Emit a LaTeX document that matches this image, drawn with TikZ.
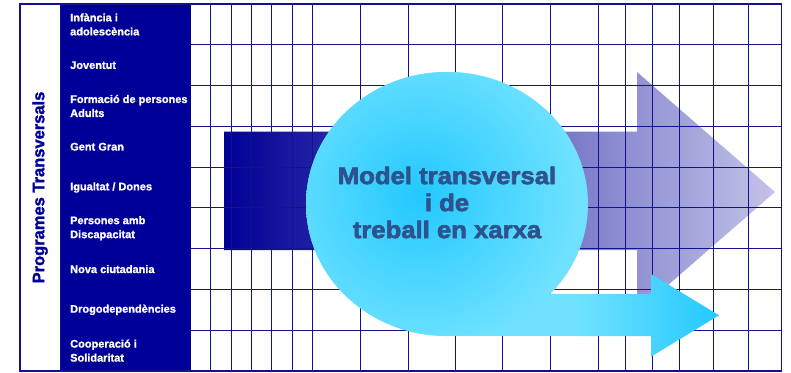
\documentclass[tikz,border=0pt]{standalone}
\usepackage{fontspec}
\setmainfont{Liberation Sans}
\newfontfamily\modelfont{Liberation Sans}[UprightFont=*-Bold, FakeStretch=1.07, FakeBold=2.6]
\newfontfamily\labelfont{Liberation Sans}[UprightFont=*-Bold, FakeBold=1.2]
\newfontfamily\progfont{Liberation Sans}[UprightFont=*-Bold, FakeBold=1.6]
\definecolor{navy}{RGB}{0,0,153}
\definecolor{gridc}{RGB}{18,18,140}
\definecolor{modeltxt}{RGB}{46,82,140}
\definecolor{cyanA}{RGB}{112,226,255}
\definecolor{cyanB}{RGB}{35,200,255}
\definecolor{lavA}{RGB}{0,0,150}
\definecolor{lavM}{RGB}{155,155,210}
\definecolor{lavB}{RGB}{195,195,232}
\begin{document}
\begin{tikzpicture}[x=1pt,y=-1pt,
  rowlabel/.style={anchor=west, inner sep=0pt, align=left, text=white,
    font=\labelfont\fontsize{11}{14}\selectfont},
  gridline/.style={draw=gridc, line width=1pt}]
\useasboundingbox (0,0) rectangle (791,372);
\fill[white] (0,0) rectangle (791,372);
% big arrow
\shade[left color=lavA, middle color=lavM, right color=lavB]
  (224,131.7) -- (637,131.7) -- (637,72) -- (775,192) -- (637,312) -- (637,250) -- (224,250) -- cycle;
% grid
\foreach \x in {210.7,231,251.3,271.7,292.3,312.7,360,408,455.3,502.7,550.3,598,625.3,652.3,679.7,713.7,748}
  \draw[gridline] (\x,4) -- (\x,371);
\foreach \y in {44.8,85.6,126.3,167.1,207.9,248.7,289.4,330.2}
  \draw[gridline] (190.7,\y) -- (781.7,\y);
% label column
\fill[navy] (60,4) rectangle (190.7,371);
\draw[gridline, line width=1.3pt] (20,4) rectangle (781.7,371);
\draw[gridline] (60,4) -- (60,371);
% cyan shape
\fill[cyanA] (447,294) rectangle (578,336);
\fill[cyanA] (447,204) ellipse [x radius=141, y radius=132];
\begin{scope}
  \clip (447,204) ellipse [x radius=141, y radius=132];
  \shade[inner color=cyanB, outer color=cyanA] (420,195) circle [radius=160];
\end{scope}
\shade[left color=cyanA, right color=cyanB]
  (577,294) -- (651,294) -- (651,274) -- (719,315.3) -- (651,356.7) -- (651,336) -- (577,336) -- cycle;
% texts
\node[text=modeltxt, font=\modelfont\fontsize{24}{27}\selectfont, align=center, inner sep=0pt]
  (model) at (447,202.5) {Model transversal\\i de\\treball en xarxa};
\node[rotate=90, text=navy, inner sep=0pt, font=\progfont\fontsize{16.5}{18}\selectfont]
  (prog) at (40,187.5) {Programes Transversals};
\node[rowlabel] (l1) at (70,24.4) {Infància i\\adolescència};
\node[rowlabel] (l2) at (70,65.2) {Joventut};
\node[rowlabel] (l3) at (70,106.0) {Formació de persones\\Adults};
\node[rowlabel] (l4) at (70,146.7) {Gent Gran};
\node[rowlabel] (l5) at (70,187.5) {Igualtat / Dones};
\node[rowlabel] (l6) at (70,228.3) {Persones amb\\Discapacitat};
\node[rowlabel] (l7) at (70,269.1) {Nova ciutadania};
\node[rowlabel] (l8) at (70,309.8) {Drogodependències};
\node[rowlabel] (l9) at (70,350.6) {Cooperació i\\Solidaritat};
\end{tikzpicture}
\end{document}
